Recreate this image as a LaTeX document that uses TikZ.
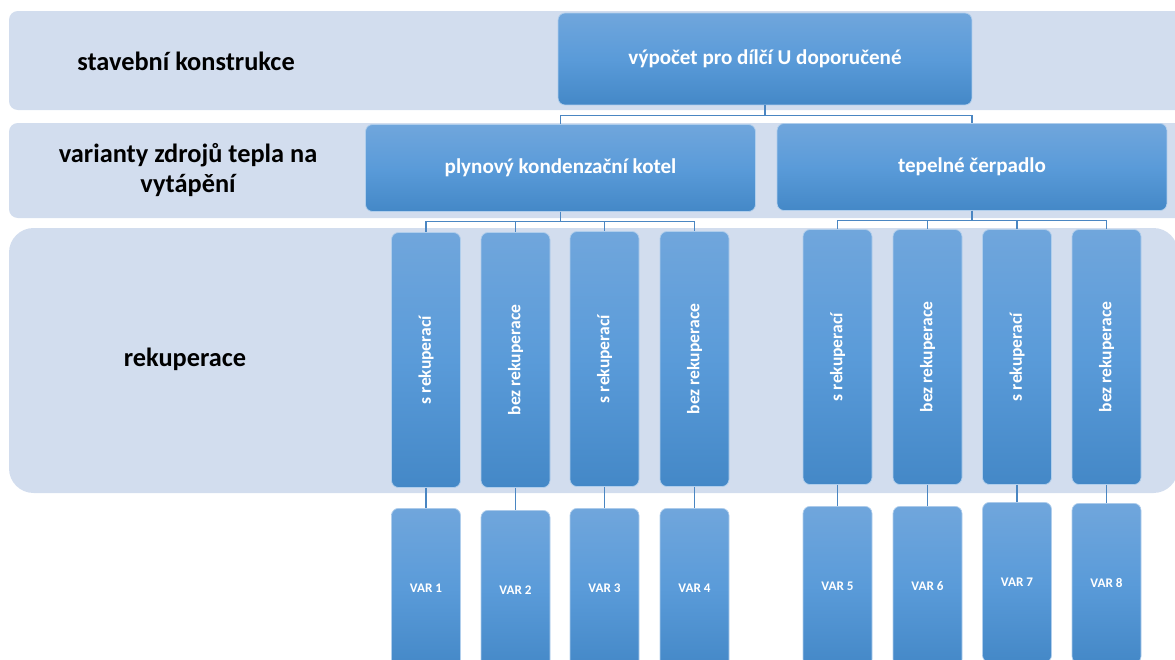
\documentclass[tikz,border=0pt]{standalone}
\usepackage{fontspec}
\setmainfont{Carlito}
\definecolor{pasbg}{HTML}{D2DDEE}
\definecolor{boxtop}{HTML}{70A6DC}
\definecolor{boxmid}{HTML}{5A9BD9}
\definecolor{boxbot}{HTML}{4488C7}
\definecolor{linka}{HTML}{4A86C2}

\begin{document}
\begin{tikzpicture}[x=0.02cm, y=-0.02cm,
            every node/.style = {shape=rectangle, rounded corners=4pt,
                                 inner sep=1pt, align=center, font=\bfseries},
            pas/.style = {fill=pasbg},
            popis/.style = {text=black, font=\bfseries\fontsize{15}{17}\selectfont},
            blok/.style = {draw=boxtop!55!white, line width=0.4pt,
                           top color=boxtop, bottom color=boxbot, middle color=boxmid,
                           text=white},
            hlavni/.style = {blok, minimum width=8.28cm, minimum height=1.84cm,
                             font=\bfseries\fontsize{12}{14}\selectfont},
            zdroj/.style = {blok, minimum width=7.8cm, minimum height=1.74cm,
                            font=\bfseries\fontsize{12}{14}\selectfont},
            rek/.style = {blok, minimum width=1.38cm, minimum height=5.1cm,
                          font=\bfseries\fontsize{10}{12}\selectfont},
            var/.style = {blok, anchor=north, minimum width=1.38cm, minimum height=3.2cm,
                          font=\bfseries\fontsize{7.5}{9}\selectfont},
            link/.style = {draw=linka, line width=0.6pt, rounded corners=0pt}]
  \useasboundingbox (0,0) rectangle (1175,659);
  \clip (0,0) rectangle (1175,659);

  % pasy v pozadi
  \fill[pas, rounded corners=5pt] (9,11) rectangle (1195,110);
  \fill[pas, rounded corners=5pt] (9,123) rectangle (1195,218);
  \fill[pas, rounded corners=14pt] (9,228) rectangle (1178,493);

  \node[popis] (stavba) at (186,61) {stavební konstrukce};
  \node[popis] (zdroje) at (188,170) {varianty zdrojů tepla na\\vytápění};
  \node[popis] (rekup) at (185,359) {rekuperace};

  % strom
  \node[hlavni] (vypocet) at (765,59) {výpočet pro dílčí U doporučené};
  \node[zdroj] (plyn) at (560.5,168) {plynový kondenzační kotel};
  \node[zdroj] (cerpadlo) at (972,167) {tepelné čerpadlo};

  \draw[link] (vypocet.south) -- ++(0,10) -| (plyn.north);
  \draw[link] (vypocet.south) -- ++(0,10) -| (cerpadlo.north);

  \foreach \x/\y/\v/\t [count=\i] in {426/360/508/s rekuperací,
                                      515.5/360/510/bez rekuperace,
                                      604.5/359/508/s rekuperací,
                                      694.5/359/508/bez rekuperace,
                                      837.5/357/506/s rekuperací,
                                      927.5/357/506/bez rekuperace,
                                      1017/357/502/s rekuperací,
                                      1106.5/357/503/bez rekuperace} {
    \node[rek] (r\i) at (\x,\y) {\rotatebox{90}{\t}};
    \node[var] (v\i) at (\x,\v) {VAR \i};
    \draw[link] (r\i.south) -- (v\i.north);
  }

  \foreach \i in {1,...,4}
    \draw[link] (plyn.south) -- ++(0,10) -| (r\i.north);
  \foreach \i in {5,...,8}
    \draw[link] (cerpadlo.south) -- ++(0,10) -| (r\i.north);
\end{tikzpicture}
\end{document}
